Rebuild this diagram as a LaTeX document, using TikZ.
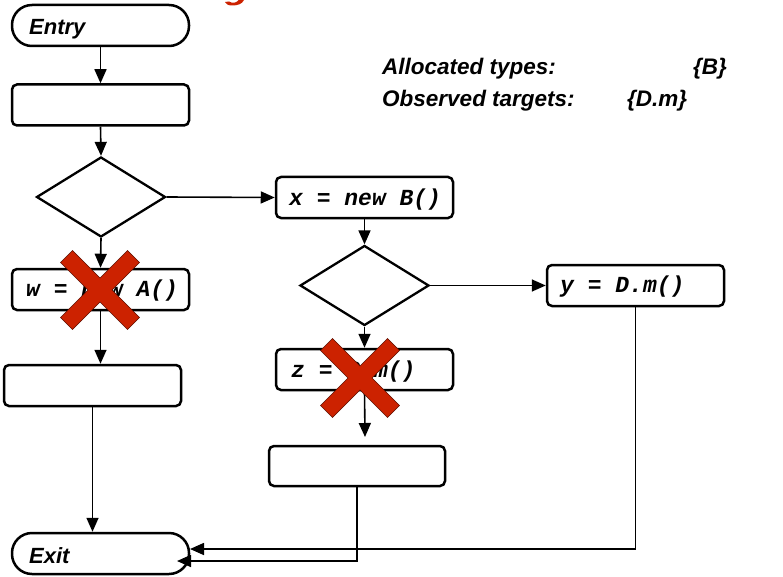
\documentclass[tikz,border=0pt]{standalone}
\usepackage{fontspec}
\usetikzlibrary{arrows.meta,shapes.geometric}
\newfontfamily\codefont{Liberation Mono}
\newfontfamily\labfont{Liberation Sans}
\definecolor{xred}{RGB}{204,34,0}
\tikzset{
  box/.style={draw, line width=2.5pt, rounded corners=5pt, minimum width=177pt, minimum height=41pt, inner sep=0pt},
  term/.style={box, rounded corners=20pt},
  dec/.style={draw, diamond, line width=2.3pt, minimum width=129pt, minimum height=80pt, inner sep=0pt},
  flow/.style={line width=1.6pt, -{Triangle[length=14pt,width=12pt]}},
  code/.style={anchor=base west, inner sep=0pt, font={\codefont\bfseries\itshape\fontsize{23pt}{27pt}\selectfont}},
  termtext/.style={anchor=base west, inner sep=0pt, font={\labfont\bfseries\itshape\fontsize{22pt}{26pt}\selectfont}},
  note/.style={anchor=base west, inner sep=0pt, font={\labfont\bfseries\itshape\fontsize{22.5pt}{26pt}\selectfont}},
  redx/.pic={\fill[xred, draw=black!55!xred, line width=0.6pt]
    (12,0) -- (39.5,27.5) -- (27.5,39.5) -- (0,12) -- (-27.5,39.5) -- (-39.5,27.5) --
    (-12,0) -- (-39.5,-27.5) -- (-27.5,-39.5) -- (0,-12) -- (27.5,-39.5) -- (39.5,-27.5) -- cycle;}
}
\begin{document}
\begin{tikzpicture}[x=1pt,y=-1pt]
\useasboundingbox (0,0) rectangle (783,577);
% clipped tail of the red title glyph
\fill[xred] (244,0) .. controls (242,4) and (238,5.5) .. (232,5.5)
  .. controls (228,5.5) and (226,4) .. (225,2) -- (229,1.5)
  .. controls (230,2.5) and (233,3) .. (235,2.5)
  .. controls (237,2) and (238,1) .. (238.5,0) -- cycle;

% boxes
\node[term] (entry) at (100.5,25.5) {};
\node[box]  (b1)    at (100.5,105) {};
\node[dec]  (d1)    at (101,197) {};
\node[box]  (xb)    at (364.5,197.5) {};
\node[box]  (wb)    at (100.5,289.5) {};
\node[box]  (b3)    at (92.5,385.5) {};
\node[term] (exit)  at (100.5,553.5) {};
\node[dec]  (d2)    at (364.5,285.5) {};
\node[box]  (yb)    at (635.5,285.5) {};
\node[box]  (zb)    at (364.5,369.5) {};
\node[box, minimum width=176pt, minimum height=40pt] (b5) at (357,466) {};

% texts
\node[termtext] (entryt) at (29,35) {Entry};
\node[termtext] (exitt)  at (29,563) {Exit};
\node[code] (xt) at (289,205) {x = new B()};
\node[code] (wt) at (26,296) {w = new A()};
\node[code] (yt) at (560,292) {y = D.m()};
\node[code] (zt) at (291,377) {z = C.m()};
\node[note] (n1) at (382,75) {Allocated types:};
\node[note] (n2) at (693,75) {\{B\}};
\node[note] (n3) at (382,107) {Observed targets:};
\node[note] (n4) at (627,107) {\{D.m\}};

% connectors
\coordinate (z5) at (365,437);
\coordinate (ea) at (190,549);
\coordinate (eb) at (177,561);
\draw[flow] (entry.south) -- (b1.north);
\draw[flow] (b1.south) -- (d1.north);
\draw[flow] (d1.east) -- (xb.west);
\draw[flow] (d1.south) -- (wb.north);
\draw[flow] (wb.south) -- (wb.south |- b3.north);
\draw[flow] (b3.south) -- (b3.south |- exit.north);
\draw[flow] (xb.south) -- (d2.north);
\draw[flow] (d2.east) -- (yb.west);
\draw[flow] (d2.south) -- (zb.north);
\draw[flow] (zb.south) -- (z5);
\draw[flow] (yb.south) |- (ea);
\draw[flow] (b5.south) |- (eb);

% crosses
\pic at (100,290) {redx};
\pic at (360,378) {redx};
\end{tikzpicture}
\end{document}
